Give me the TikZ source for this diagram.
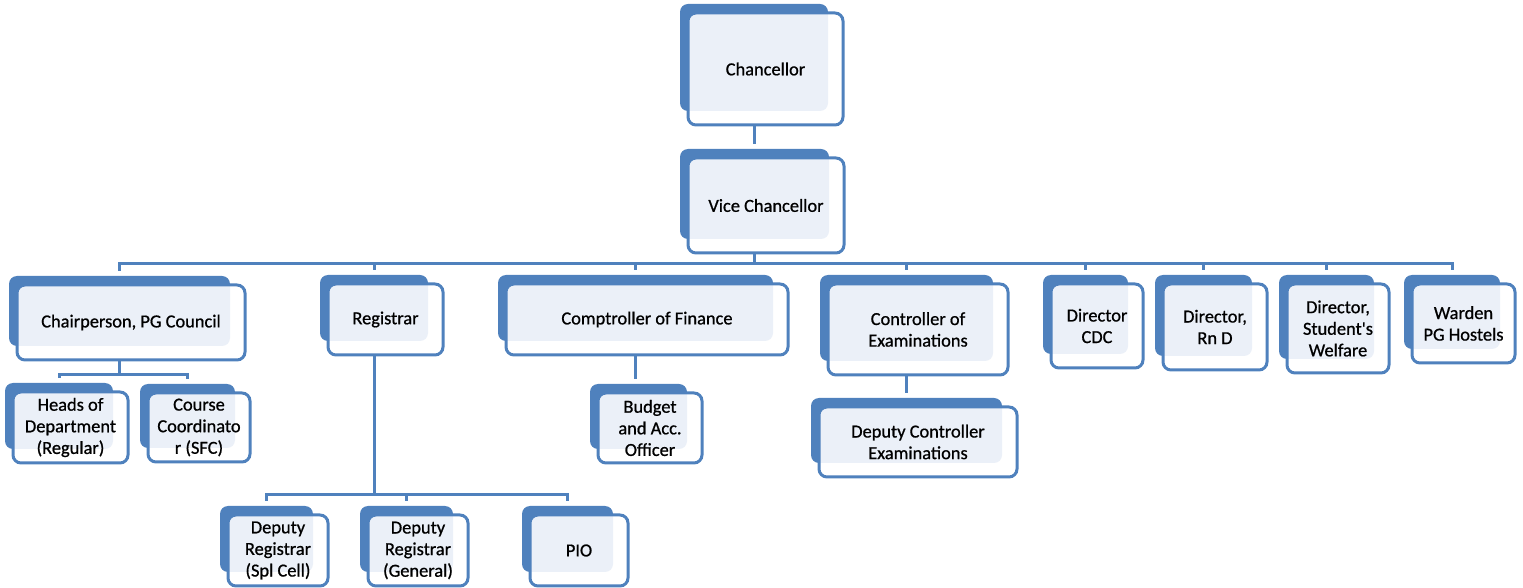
\documentclass[tikz,border=0pt]{standalone}
\usepackage{fontspec}
\setmainfont{Carlito}
\newfontfamily\orgfont{Carlito}[FakeBold=0.8]
\definecolor{orgblue}{HTML}{4F81BD}
\definecolor{orglight}{HTML}{EBF0F8}
\tikzset{
  frontbox/.style={draw=orgblue, line width=1.5pt, rounded corners=4pt, align=center,
    inner sep=0pt, text=black, font=\orgfont\fontsize{9.2}{10.8}\selectfont},
  conn/.style={draw=orgblue, line width=1.5pt}
}
% #1 name, #2 left, #3 top, #4 right, #5 bottom (pixels), #6 text
\newcommand\orgbox[6]{%
  \fill[orgblue, rounded corners=4pt] ({#2-8},{#3-9}) rectangle ({#4-15},{#5-14});
  \fill[white, rounded corners=4pt] (#2,#3) rectangle (#4,#5);
  \begin{scope}
    \clip[rounded corners=4pt] (#2,#3) rectangle (#4,#5);
    \fill[orglight, rounded corners=4pt] ({#2-8},{#3-9}) rectangle ({#4-15},{#5-14});
  \end{scope}
  \node[frontbox, minimum width={(#4-#2)*0.5pt}, minimum height={(#5-#3)*0.5pt}]
    (#1) at ({(#2+#4)/2},{(#3+#5)/2}) {#6};
  \coordinate (#1-t) at ({(#2+#4)/2-11.5},{#3-14});
  \coordinate (#1-b) at ({(#2+#4)/2-11.5},#5);
}
\begin{document}
\begin{tikzpicture}[x=0.5pt, y=-0.5pt]
\useasboundingbox (0,0) rectangle (1523,588);
\orgbox{chan}{688}{13}{843}{125}{Chancellor}
\orgbox{vc}{688}{158}{844}{253}{Vice Chancellor}
\orgbox{chair}{17}{285}{245}{360}{Chairperson, PG Council}
\orgbox{reg}{328}{284}{443}{355}{Registrar}
\orgbox{comp}{506}{284}{788}{355}{Comptroller of Finance}
\orgbox{ctrl}{828}{284}{1008}{375}{Controller of\\Examinations}
\orgbox{cdc}{1051}{284}{1143}{368}{Director\\CDC}
\orgbox{rnd}{1163}{284}{1267}{370}{Director,\\Rn D}
\orgbox{dsw}{1287}{284}{1389}{373}{Director,\\Student's\\Welfare}
\orgbox{warden}{1412}{284}{1515}{363}{Warden\\PG Hostels}
\orgbox{heads}{13}{392}{128}{463}{Heads of\\Department\\(Regular)}
\orgbox{course}{148}{393}{250}{462}{Course\\Coordinato\\r (SFC)}
\orgbox{budget}{598}{393}{702}{463}{Budget\\and Acc.\\Officer}
\orgbox{depctrl}{819}{407}{1017}{477}{Deputy Controller\\Examinations}
\orgbox{drspl}{228}{515}{328}{586}{Deputy\\Registrar\\(Spl Cell)}
\orgbox{drgen}{368}{515}{468}{586}{Deputy\\Registrar\\(General)}
\orgbox{pio}{530}{515}{628}{586}{PIO}

\coordinate (busvc) at (0,264);
\coordinate (busch) at (0,375);
\coordinate (busreg) at (0,495);

\draw[conn] (chan-b) -- (chan-b |- vc-t);
\foreach \c in {chair,reg,comp,ctrl,cdc,rnd,dsw,warden}
  \draw[conn] (vc-b) -- (vc-b |- busvc) -| (\c-t);
\foreach \c in {heads,course}
  \draw[conn] (chair-b) -- (chair-b |- busch) -| (\c-t);
\foreach \c in {drspl,drgen,pio}
  \draw[conn] (reg-b) -- (reg-b |- busreg) -| (\c-t);
\draw[conn] (comp-b) -- (comp-b |- budget-t);
\draw[conn] (ctrl-b) -- (ctrl-b |- depctrl-t);
\end{tikzpicture}
\end{document}
